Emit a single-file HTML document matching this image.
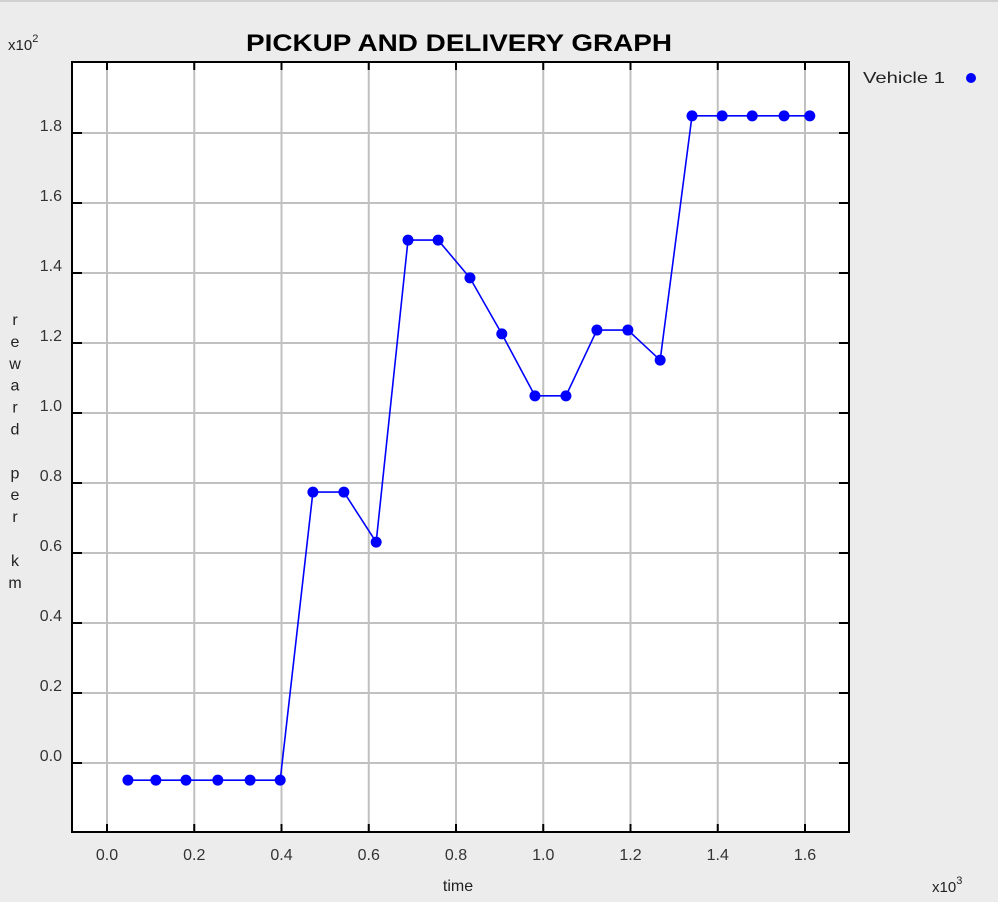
<!DOCTYPE html>
<html><head><meta charset="utf-8"><style>
body{margin:0;background:#ececec;overflow:hidden;}
svg{display:block;font-family:"Liberation Sans",sans-serif;}
</style></head><body>
<svg id="chart" width="998" height="902">
<rect x="0" y="0" width="998" height="902" fill="#ececec"/>
<rect x="0" y="0" width="998" height="2" fill="#d0d0d0"/>
<text x="246" y="51" textLength="426" lengthAdjust="spacingAndGlyphs" font-size="24" font-weight="bold" fill="#000">PICKUP AND DELIVERY GRAPH</text>
<rect x="72" y="62" width="777" height="770" fill="#fff"/>
<g id="grid"></g>
<g id="ticks"></g>
<rect x="72" y="62" width="777" height="770" fill="none" stroke="#000" stroke-width="2"/>
<g id="series"></g>
<text x="8" y="50" font-size="15" fill="#222">x10<tspan dy="-8" font-size="11">2</tspan></text>
<text x="932" y="892" font-size="15" fill="#222">x10<tspan dy="-8" font-size="11">3</tspan></text>
<text x="458" y="891" text-anchor="middle" font-size="16" fill="#222">time</text>
<g id="ytitle" font-size="16" fill="#222" text-anchor="middle"></g>
<g>
<text x="863" y="83" textLength="82" lengthAdjust="spacingAndGlyphs" font-size="16" fill="#222">Vehicle 1</text>
<circle cx="971" cy="78" r="5" fill="#0000ff"/>
</g>
</svg>
<script>
const xTicks=[0,0.2,0.4,0.6,0.8,1.0,1.2,1.4,1.6];
const yTicks=[0,0.2,0.4,0.6,0.8,1.0,1.2,1.4,1.6,1.8];
const times=[48,112,181,254,328,397,472,543,617,690,759,832,905,981,1052,1123,1194,1268,1341,1410,1479,1552,1611];
const rewards=[-4.9,-4.9,-4.9,-4.9,-4.9,-4.9,77.4,77.4,63.1,149.4,149.4,138.6,122.6,104.9,104.9,123.7,123.7,115.1,184.9,184.9,184.9,184.9,184.9];
const NS='http://www.w3.org/2000/svg';
function sx(v){return 107+v*436.25;}      // v in x10^3
function sy(v){return 763-v*3.5;}         // v raw reward
function mk(t,a,p){const e=document.createElementNS(NS,t);for(const k in a)e.setAttribute(k,a[k]);p.appendChild(e);return e;}
const grid=document.getElementById('grid'),ticks=document.getElementById('ticks'),ser=document.getElementById('series');
xTicks.forEach(v=>{const x=sx(v);
 let l=mk('line',{x1:x,y1:62,x2:x,y2:832,stroke:'#c0c0c0','stroke-width':2},grid);
 
 let t=mk('line',{x1:x,y1:832,x2:x,y2:824,stroke:'#000','stroke-width':2},grid);
 
 let t2=mk('line',{x1:x,y1:62,x2:x,y2:70,stroke:'#000','stroke-width':2},grid);
 
 let s=mk('text',{x:x,y:860,'text-anchor':'middle','font-size':16,fill:'#333'},ticks);s.textContent=v.toFixed(1);
 });
yTicks.forEach(v=>{const y=sy(v*100);
 let l=mk('line',{x1:72,y1:y,x2:849,y2:y,stroke:'#c0c0c0','stroke-width':2},grid);
 
 let t=mk('line',{x1:72,y1:y,x2:82,y2:y,stroke:'#000','stroke-width':2},grid);
 
 let t2=mk('line',{x1:849,y1:y,x2:839,y2:y,stroke:'#000','stroke-width':2},grid);
 
 let s=mk('text',{x:62,y:y-2,'text-anchor':'end','font-size':16,fill:'#333'},ticks);s.textContent=v.toFixed(1);
 });
const pts=times.map((t,i)=>sx(t/1000)+','+sy(rewards[i])).join(' ');
const pl=mk('polyline',{points:pts,fill:'none',stroke:'#0000ff','stroke-width':1.6},ser);

times.forEach((t,i)=>{const c=mk('circle',{cx:sx(t/1000),cy:sy(rewards[i]),r:5.5,fill:'#0000ff'},ser);
 });
const yt=document.getElementById('ytitle');
const letters=['r','e','w','a','r','d','','p','e','r','','k','m'];
letters.forEach((c,i)=>{if(!c)return;const s=mk('text',{x:15,y:325+i*21.9},yt);s.textContent=c;
 });
</script>
</body></html>
